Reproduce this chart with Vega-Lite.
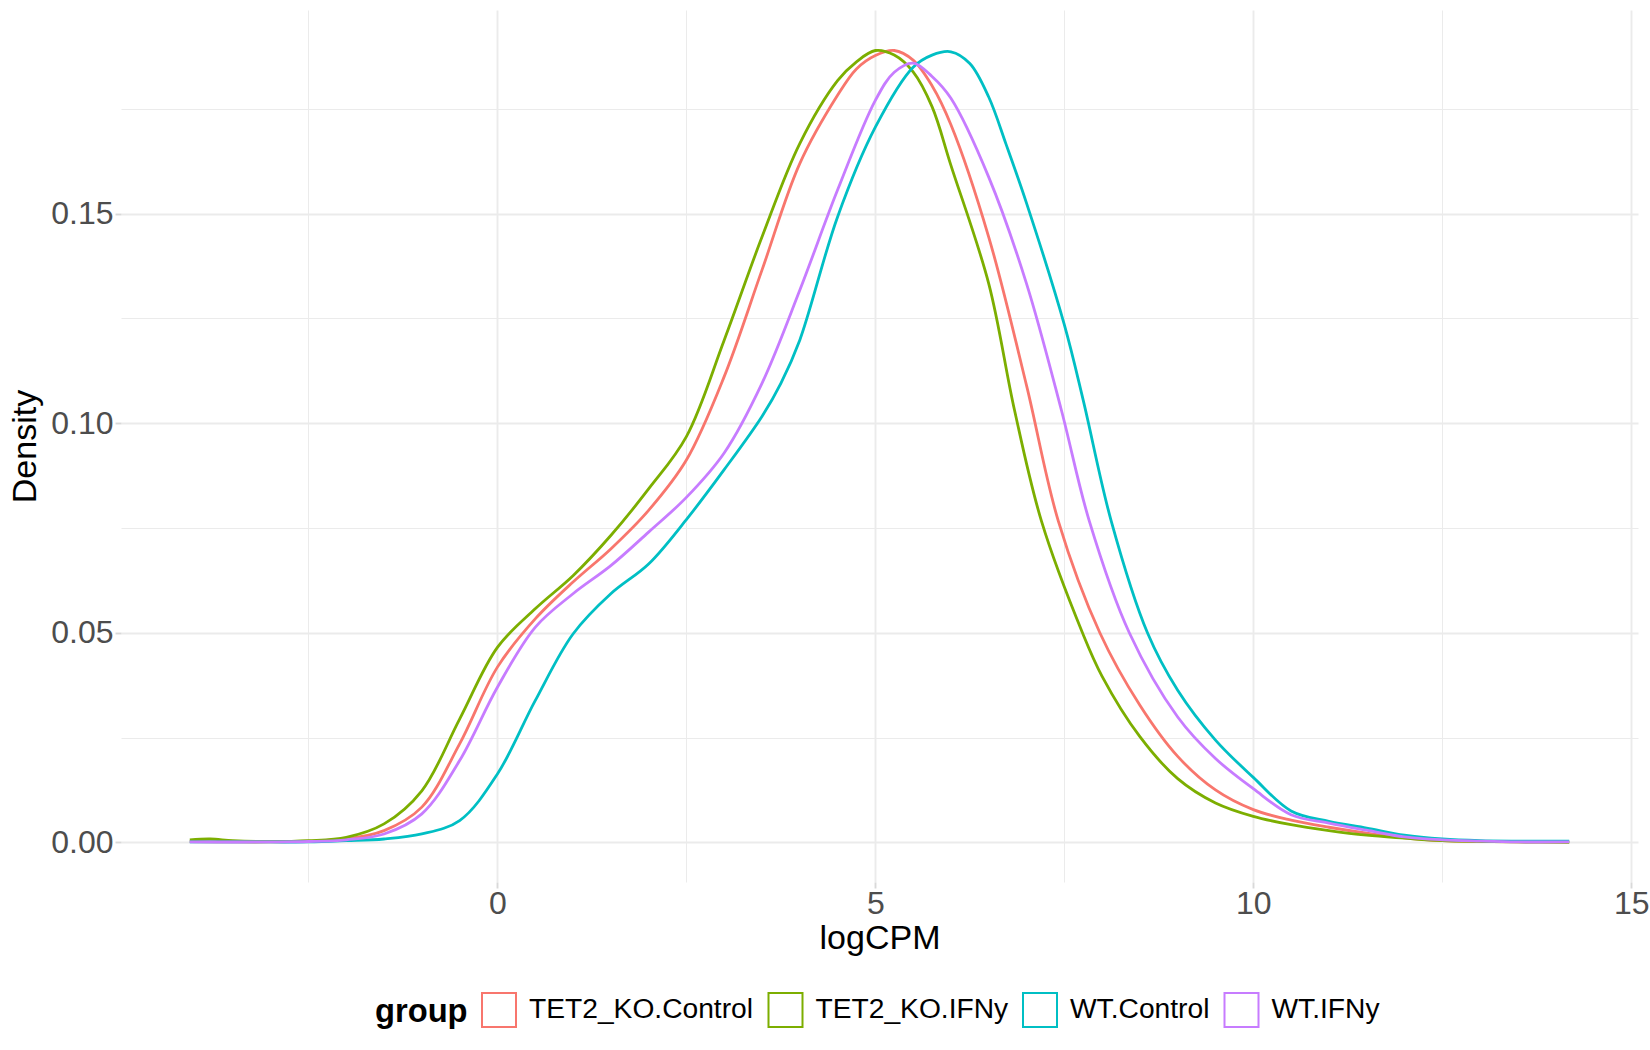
{
  "$schema": "https://vega.github.io/schema/vega-lite/v6.json",
  "width": 1517,
  "height": 872,
  "autosize": {"type": "none"},
  "padding": {"left": 121, "top": 10, "right": 12, "bottom": 168},
  "background": "white",
  "config": {"view": {"stroke": null}, "font": "Liberation Sans"},
  "data": {
    "values": [
      {"group": "TET2_KO.Control", "logCPM": -4.07, "density": 0.0002},
      {"group": "TET2_KO.Control", "logCPM": -3.5, "density": 0.0001},
      {"group": "TET2_KO.Control", "logCPM": -3, "density": 0.0001},
      {"group": "TET2_KO.Control", "logCPM": -2.5, "density": 0.0003},
      {"group": "TET2_KO.Control", "logCPM": -2, "density": 0.0008},
      {"group": "TET2_KO.Control", "logCPM": -1.5, "density": 0.0028},
      {"group": "TET2_KO.Control", "logCPM": -1, "density": 0.0084},
      {"group": "TET2_KO.Control", "logCPM": -0.5, "density": 0.0235},
      {"group": "TET2_KO.Control", "logCPM": 0, "density": 0.0418},
      {"group": "TET2_KO.Control", "logCPM": 0.5, "density": 0.0533},
      {"group": "TET2_KO.Control", "logCPM": 1, "density": 0.0621},
      {"group": "TET2_KO.Control", "logCPM": 1.5, "density": 0.07},
      {"group": "TET2_KO.Control", "logCPM": 2, "density": 0.0792},
      {"group": "TET2_KO.Control", "logCPM": 2.5, "density": 0.0912},
      {"group": "TET2_KO.Control", "logCPM": 3, "density": 0.1111},
      {"group": "TET2_KO.Control", "logCPM": 3.5, "density": 0.1365},
      {"group": "TET2_KO.Control", "logCPM": 4, "density": 0.1619},
      {"group": "TET2_KO.Control", "logCPM": 4.5, "density": 0.1782},
      {"group": "TET2_KO.Control", "logCPM": 4.75, "density": 0.1845},
      {"group": "TET2_KO.Control", "logCPM": 5, "density": 0.1877},
      {"group": "TET2_KO.Control", "logCPM": 5.25, "density": 0.1889},
      {"group": "TET2_KO.Control", "logCPM": 5.5, "density": 0.1866},
      {"group": "TET2_KO.Control", "logCPM": 5.75, "density": 0.1805},
      {"group": "TET2_KO.Control", "logCPM": 6, "density": 0.1712},
      {"group": "TET2_KO.Control", "logCPM": 6.5, "density": 0.1444},
      {"group": "TET2_KO.Control", "logCPM": 7, "density": 0.109},
      {"group": "TET2_KO.Control", "logCPM": 7.42, "density": 0.0767},
      {"group": "TET2_KO.Control", "logCPM": 7.97, "density": 0.05},
      {"group": "TET2_KO.Control", "logCPM": 8.5, "density": 0.0327},
      {"group": "TET2_KO.Control", "logCPM": 9, "density": 0.0205},
      {"group": "TET2_KO.Control", "logCPM": 9.5, "density": 0.0125},
      {"group": "TET2_KO.Control", "logCPM": 10, "density": 0.0078},
      {"group": "TET2_KO.Control", "logCPM": 10.5, "density": 0.0053},
      {"group": "TET2_KO.Control", "logCPM": 11, "density": 0.0036},
      {"group": "TET2_KO.Control", "logCPM": 11.5, "density": 0.0022},
      {"group": "TET2_KO.Control", "logCPM": 12, "density": 0.0011},
      {"group": "TET2_KO.Control", "logCPM": 12.5, "density": 0.0004},
      {"group": "TET2_KO.Control", "logCPM": 13, "density": 0.0002},
      {"group": "TET2_KO.Control", "logCPM": 13.5, "density": 0.0001},
      {"group": "TET2_KO.Control", "logCPM": 14.18, "density": 0.0001},

      {"group": "TET2_KO.IFNy", "logCPM": -4.07, "density": 0.0006},
      {"group": "TET2_KO.IFNy", "logCPM": -3.8, "density": 0.0008},
      {"group": "TET2_KO.IFNy", "logCPM": -3.5, "density": 0.0004},
      {"group": "TET2_KO.IFNy", "logCPM": -3, "density": 0.0002},
      {"group": "TET2_KO.IFNy", "logCPM": -2.5, "density": 0.0004},
      {"group": "TET2_KO.IFNy", "logCPM": -2, "density": 0.0012},
      {"group": "TET2_KO.IFNy", "logCPM": -1.5, "density": 0.0044},
      {"group": "TET2_KO.IFNy", "logCPM": -1, "density": 0.0123},
      {"group": "TET2_KO.IFNy", "logCPM": -0.5, "density": 0.0294},
      {"group": "TET2_KO.IFNy", "logCPM": 0, "density": 0.0465},
      {"group": "TET2_KO.IFNy", "logCPM": 0.5, "density": 0.0557},
      {"group": "TET2_KO.IFNy", "logCPM": 1, "density": 0.0636},
      {"group": "TET2_KO.IFNy", "logCPM": 1.5, "density": 0.0732},
      {"group": "TET2_KO.IFNy", "logCPM": 2, "density": 0.0843},
      {"group": "TET2_KO.IFNy", "logCPM": 2.5, "density": 0.0968},
      {"group": "TET2_KO.IFNy", "logCPM": 3, "density": 0.1198},
      {"group": "TET2_KO.IFNy", "logCPM": 3.5, "density": 0.1444},
      {"group": "TET2_KO.IFNy", "logCPM": 4, "density": 0.1667},
      {"group": "TET2_KO.IFNy", "logCPM": 4.5, "density": 0.1817},
      {"group": "TET2_KO.IFNy", "logCPM": 4.75, "density": 0.1862},
      {"group": "TET2_KO.IFNy", "logCPM": 5, "density": 0.1889},
      {"group": "TET2_KO.IFNy", "logCPM": 5.25, "density": 0.1878},
      {"group": "TET2_KO.IFNy", "logCPM": 5.5, "density": 0.1838},
      {"group": "TET2_KO.IFNy", "logCPM": 5.75, "density": 0.1755},
      {"group": "TET2_KO.IFNy", "logCPM": 6, "density": 0.1615},
      {"group": "TET2_KO.IFNy", "logCPM": 6.5, "density": 0.1333},
      {"group": "TET2_KO.IFNy", "logCPM": 6.84, "density": 0.1032},
      {"group": "TET2_KO.IFNy", "logCPM": 7.2, "density": 0.0765},
      {"group": "TET2_KO.IFNy", "logCPM": 7.74, "density": 0.05},
      {"group": "TET2_KO.IFNy", "logCPM": 8, "density": 0.0396},
      {"group": "TET2_KO.IFNy", "logCPM": 8.5, "density": 0.0252},
      {"group": "TET2_KO.IFNy", "logCPM": 9, "density": 0.0152},
      {"group": "TET2_KO.IFNy", "logCPM": 9.5, "density": 0.0094},
      {"group": "TET2_KO.IFNy", "logCPM": 10, "density": 0.0062},
      {"group": "TET2_KO.IFNy", "logCPM": 10.5, "density": 0.0042},
      {"group": "TET2_KO.IFNy", "logCPM": 11, "density": 0.0028},
      {"group": "TET2_KO.IFNy", "logCPM": 11.5, "density": 0.0017},
      {"group": "TET2_KO.IFNy", "logCPM": 12, "density": 0.001},
      {"group": "TET2_KO.IFNy", "logCPM": 12.5, "density": 0.0004},
      {"group": "TET2_KO.IFNy", "logCPM": 13, "density": 0.0002},
      {"group": "TET2_KO.IFNy", "logCPM": 13.5, "density": 0.0001},
      {"group": "TET2_KO.IFNy", "logCPM": 14.18, "density": 0},

      {"group": "WT.Control", "logCPM": -4.07, "density": 0.0001},
      {"group": "WT.Control", "logCPM": -3, "density": 0.0001},
      {"group": "WT.Control", "logCPM": -2.5, "density": 0.0001},
      {"group": "WT.Control", "logCPM": -2, "density": 0.0004},
      {"group": "WT.Control", "logCPM": -1.5, "density": 0.0008},
      {"group": "WT.Control", "logCPM": -1, "density": 0.002},
      {"group": "WT.Control", "logCPM": -0.5, "density": 0.0052},
      {"group": "WT.Control", "logCPM": 0, "density": 0.0163},
      {"group": "WT.Control", "logCPM": 0.5, "density": 0.0338},
      {"group": "WT.Control", "logCPM": 1, "density": 0.0497},
      {"group": "WT.Control", "logCPM": 1.5, "density": 0.0593},
      {"group": "WT.Control", "logCPM": 2, "density": 0.0664},
      {"group": "WT.Control", "logCPM": 2.5, "density": 0.077},
      {"group": "WT.Control", "logCPM": 3, "density": 0.0889},
      {"group": "WT.Control", "logCPM": 3.5, "density": 0.1016},
      {"group": "WT.Control", "logCPM": 3.75, "density": 0.1095},
      {"group": "WT.Control", "logCPM": 4, "density": 0.1198},
      {"group": "WT.Control", "logCPM": 4.5, "density": 0.1492},
      {"group": "WT.Control", "logCPM": 5, "density": 0.1706},
      {"group": "WT.Control", "logCPM": 5.5, "density": 0.1849},
      {"group": "WT.Control", "logCPM": 5.75, "density": 0.1878},
      {"group": "WT.Control", "logCPM": 6, "density": 0.1886},
      {"group": "WT.Control", "logCPM": 6.25, "density": 0.1858},
      {"group": "WT.Control", "logCPM": 6.5, "density": 0.1778},
      {"group": "WT.Control", "logCPM": 6.73, "density": 0.1665},
      {"group": "WT.Control", "logCPM": 7, "density": 0.1525},
      {"group": "WT.Control", "logCPM": 7.5, "density": 0.1235},
      {"group": "WT.Control", "logCPM": 7.75, "density": 0.1055},
      {"group": "WT.Control", "logCPM": 8.12, "density": 0.0767},
      {"group": "WT.Control", "logCPM": 8.6, "density": 0.05},
      {"group": "WT.Control", "logCPM": 9, "density": 0.0363},
      {"group": "WT.Control", "logCPM": 9.5, "density": 0.0244},
      {"group": "WT.Control", "logCPM": 10, "density": 0.0155},
      {"group": "WT.Control", "logCPM": 10.5, "density": 0.0075},
      {"group": "WT.Control", "logCPM": 11, "density": 0.005},
      {"group": "WT.Control", "logCPM": 11.5, "density": 0.0034},
      {"group": "WT.Control", "logCPM": 12, "density": 0.0017},
      {"group": "WT.Control", "logCPM": 12.5, "density": 0.0008},
      {"group": "WT.Control", "logCPM": 13, "density": 0.0004},
      {"group": "WT.Control", "logCPM": 13.5, "density": 0.0003},
      {"group": "WT.Control", "logCPM": 14.18, "density": 0.0003},

      {"group": "WT.IFNy", "logCPM": -4.07, "density": 0.0001},
      {"group": "WT.IFNy", "logCPM": -3, "density": 0.0001},
      {"group": "WT.IFNy", "logCPM": -2.5, "density": 0.0002},
      {"group": "WT.IFNy", "logCPM": -2, "density": 0.0006},
      {"group": "WT.IFNy", "logCPM": -1.5, "density": 0.002},
      {"group": "WT.IFNy", "logCPM": -1, "density": 0.0068},
      {"group": "WT.IFNy", "logCPM": -0.5, "density": 0.0195},
      {"group": "WT.IFNy", "logCPM": 0, "density": 0.037},
      {"group": "WT.IFNy", "logCPM": 0.5, "density": 0.0513},
      {"group": "WT.IFNy", "logCPM": 1, "density": 0.0593},
      {"group": "WT.IFNy", "logCPM": 1.5, "density": 0.066},
      {"group": "WT.IFNy", "logCPM": 2, "density": 0.074},
      {"group": "WT.IFNy", "logCPM": 2.5, "density": 0.0823},
      {"group": "WT.IFNy", "logCPM": 3, "density": 0.0929},
      {"group": "WT.IFNy", "logCPM": 3.5, "density": 0.1095},
      {"group": "WT.IFNy", "logCPM": 4, "density": 0.1317},
      {"group": "WT.IFNy", "logCPM": 4.5, "density": 0.1556},
      {"group": "WT.IFNy", "logCPM": 5, "density": 0.177},
      {"group": "WT.IFNy", "logCPM": 5.25, "density": 0.1837},
      {"group": "WT.IFNy", "logCPM": 5.5, "density": 0.1859},
      {"group": "WT.IFNy", "logCPM": 5.75, "density": 0.1827},
      {"group": "WT.IFNy", "logCPM": 6, "density": 0.1775},
      {"group": "WT.IFNy", "logCPM": 6.5, "density": 0.1587},
      {"group": "WT.IFNy", "logCPM": 7, "density": 0.1333},
      {"group": "WT.IFNy", "logCPM": 7.46, "density": 0.1032},
      {"group": "WT.IFNy", "logCPM": 7.83, "density": 0.0767},
      {"group": "WT.IFNy", "logCPM": 8.36, "density": 0.05},
      {"group": "WT.IFNy", "logCPM": 9, "density": 0.0299},
      {"group": "WT.IFNy", "logCPM": 9.5, "density": 0.02},
      {"group": "WT.IFNy", "logCPM": 10, "density": 0.0128},
      {"group": "WT.IFNy", "logCPM": 10.5, "density": 0.0066},
      {"group": "WT.IFNy", "logCPM": 11, "density": 0.0046},
      {"group": "WT.IFNy", "logCPM": 11.5, "density": 0.0029},
      {"group": "WT.IFNy", "logCPM": 12, "density": 0.0013},
      {"group": "WT.IFNy", "logCPM": 12.5, "density": 0.0006},
      {"group": "WT.IFNy", "logCPM": 13, "density": 0.0003},
      {"group": "WT.IFNy", "logCPM": 13.5, "density": 0.0001},
      {"group": "WT.IFNy", "logCPM": 14.18, "density": 0.0001}
    ]
  },
  "mark": {"type": "line", "interpolate": "catmull-rom", "strokeWidth": 2.8},
  "encoding": {
    "x": {
      "field": "logCPM",
      "type": "quantitative",
      "scale": {"domain": [-4.98, 15.09], "nice": false, "zero": false},
      "axis": {
        "title": "logCPM",
        "values": [-2.5, 0, 2.5, 5, 7.5, 10, 12.5, 15],
        "labelExpr": "datum.value % 5 === 0 ? format(datum.value, 'd') : ''",
        "domain": false,
        "gridColor": "#EBEBEB",
        "gridWidth": {"condition": {"test": "datum.value % 5 === 0", "value": 1.9}, "value": 1},
        "tickSize": 6,
        "tickColor": "#D9D9D9",
        "tickWidth": 1.9,
        "tickOpacity": {"condition": {"test": "datum.value % 5 === 0", "value": 1}, "value": 0},
        "labelFontSize": 32,
        "labelColor": "#4D4D4D",
        "labelPadding": 0,
        "titleFontSize": 34,
        "titleColor": "black",
        "titleFontWeight": "normal",
        "titleY": 56,
        "titleBaseline": "middle"
      }
    },
    "y": {
      "field": "density",
      "type": "quantitative",
      "scale": {"domain": [-0.00946, 0.19856], "nice": false, "zero": false},
      "axis": {
        "title": "Density",
        "values": [0, 0.025, 0.05, 0.075, 0.1, 0.125, 0.15, 0.175],
        "labelExpr": "abs(datum.value * 20 - round(datum.value * 20)) < 0.000001 ? format(datum.value, '.2f') : ''",
        "domain": false,
        "gridColor": "#EBEBEB",
        "gridWidth": {"condition": {"test": "abs(datum.value * 20 - round(datum.value * 20)) < 0.000001", "value": 1.9}, "value": 1},
        "tickSize": 6,
        "tickColor": "#D9D9D9",
        "tickWidth": 1.9,
        "tickOpacity": {"condition": {"test": "abs(datum.value * 20 - round(datum.value * 20)) < 0.000001", "value": 1}, "value": 0},
        "labelFontSize": 32,
        "labelColor": "#4D4D4D",
        "labelPadding": 2,
        "titleFontSize": 34,
        "titleColor": "black",
        "titleFontWeight": "normal",
        "titleX": -96,
        "titleY": 436,
        "titleAngle": -90,
        "titleAlign": "center",
        "titleBaseline": "middle"
      }
    },
    "color": {
      "field": "group",
      "type": "nominal",
      "scale": {
        "domain": ["TET2_KO.Control", "TET2_KO.IFNy", "WT.Control", "WT.IFNy"],
        "range": ["#F8766D", "#7CAE00", "#00BFC4", "#C77CFF"]
      },
      "legend": {
        "title": "group",
        "orient": "none",
        "legendX": 254,
        "legendY": 982,
        "direction": "horizontal",
        "titleOrient": "left",
        "titleFontSize": 32.7,
        "titleFontWeight": "bold",
        "titleColor": "black",
        "titlePadding": 13,
        "titleBaseline": "middle",
        "labelFontSize": 28.2,
        "labelColor": "black",
        "labelLimit": 0,
        "symbolType": "square",
        "symbolSize": 1156,
        "symbolStrokeWidth": 2,
        "symbolFillColor": "white",
        "labelOffset": 12,
        "columnPadding": 10.5
      }
    }
  }
}
